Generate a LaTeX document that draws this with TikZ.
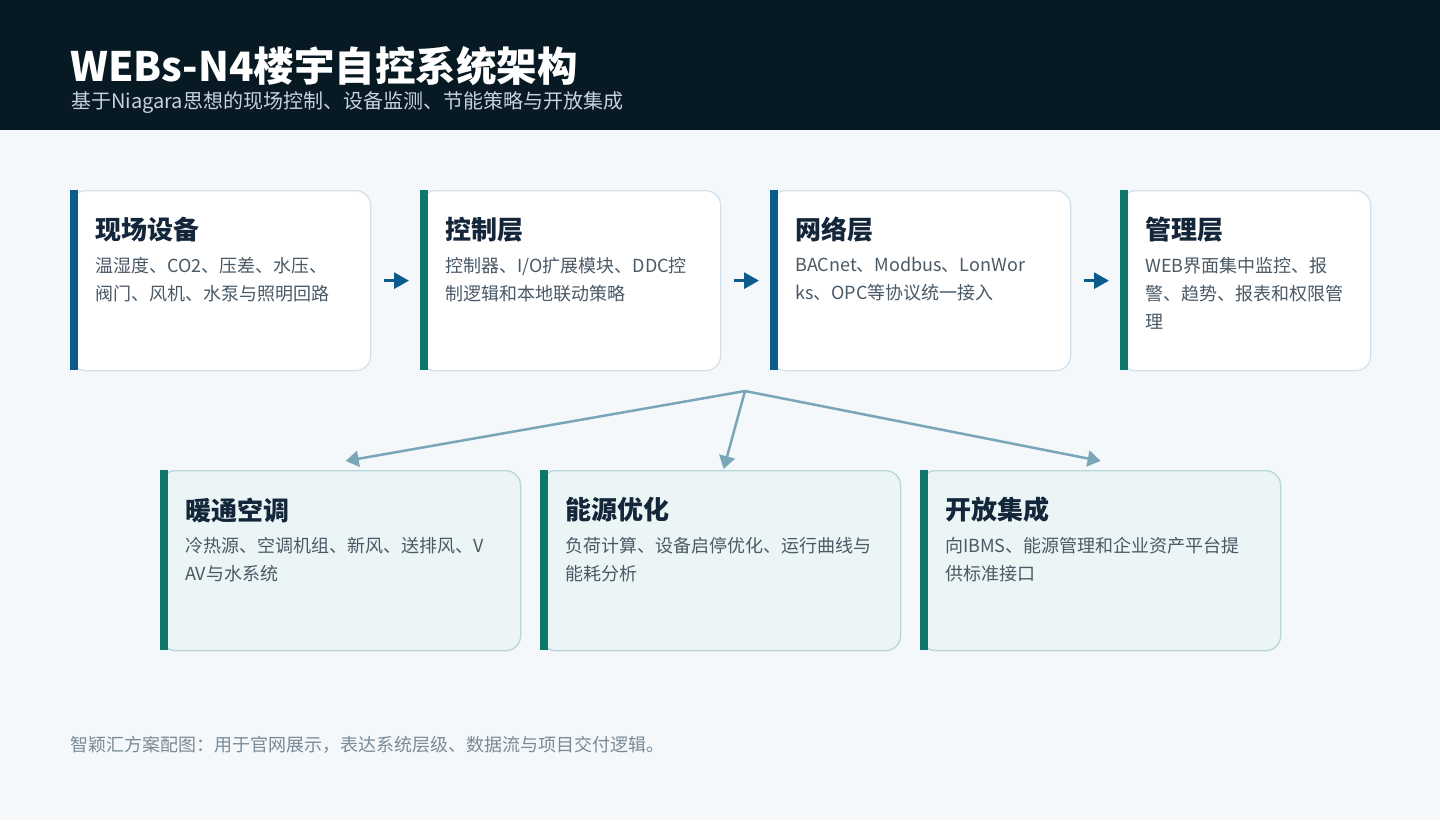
\documentclass[tikz,border=0pt]{standalone}
\usepackage{fontspec}
\setmainfont{Noto Sans CJK SC}
\usetikzlibrary{positioning, arrows.meta}

\definecolor{headbg}{HTML}{071923}
\definecolor{pagebg}{HTML}{F4F8FB}
\definecolor{ink}{HTML}{13263A}
\definecolor{bodyink}{HTML}{4A5966}
\definecolor{subink}{HTML}{C6D3DC}
\definecolor{footink}{HTML}{7A8A96}
\definecolor{barblue}{HTML}{0B5C8C}
\definecolor{barteal}{HTML}{0E766A}
\definecolor{cardline}{HTML}{D5E1EA}
\definecolor{softfill}{HTML}{EBF5F6}
\definecolor{softline}{HTML}{B7D6DA}
\definecolor{flowline}{HTML}{7AA7B8}

\begin{document}
\begin{tikzpicture}[
        x=1pt, y=-1pt,
        card/.style={draw=cardline, line width=1.3pt, fill=white, rounded corners=15pt,
            minimum width=300pt, minimum height=180pt, anchor=north west, inner sep=0pt},
        subcard/.style={card, draw=softline, fill=softfill, minimum width=360pt},
        cardtitle/.style={anchor=west, inner sep=0pt, text=ink,
            font=\fontsize{26}{30}\selectfont\bfseries},
        cardtext/.style={anchor=north west, align=left, inner sep=0pt, text=bodyink,
            font=\fontsize{18}{28}\selectfont},
        stepline/.style={-{Triangle[length=15pt,width=16pt]}, line width=3pt, draw=barblue,
            shorten <=13pt, shorten >=11pt},
        flow/.style={-{Triangle[length=13pt,width=16pt]}, line width=2.5pt, draw=flowline}
    ]
    \useasboundingbox (0,0) rectangle (1440,820);
    \fill[pagebg] (0,0) rectangle (1440,820);
    \fill[headbg] (0,0) rectangle (1440,130);
    \node[anchor=west, inner sep=0pt, text=white, font=\fontsize{40.5}{44}\selectfont\bfseries] (title) at (70,66) {WEBs-N4楼宇自控系统架构};
    \node[anchor=west, inner sep=0pt, text=subink, font=\fontsize{20}{24}\selectfont] (subtitle) at (71,103) {基于Niagara思想的现场控制、设备监测、节能策略与开放集成};

    % flows to the application cards
    \coordinate (hub) at (745,391);
    \node[subcard] (hvac) at (160,470) {};
    \node[subcard] (energy) at (540,470) {};
    \node[subcard] (integ) at (920,470) {};
    \draw[flow] (hub) -- ([shift={(5,-9)}]hvac.north);
    \draw[flow] (hub) -- ([shift={(3,-1)}]energy.north);
    \draw[flow] (hub) -- ([shift={(0,-9)}]integ.north);

    % layer cards
    \node[card] (field) at (70,190) {};
    \node[card] (ctrl) at (420,190) {};
    \node[card] (net) at (770,190) {};
    \node[card, minimum width=250pt] (mgmt) at (1120,190) {};
    \fill[barblue] (field.north west) rectangle ++(8,180);
    \fill[barteal] (ctrl.north west) rectangle ++(8,180);
    \fill[barblue] (net.north west) rectangle ++(8,180);
    \fill[barteal] (mgmt.north west) rectangle ++(8,180);
    \fill[barteal] (hvac.north west) rectangle ++(8,180);
    \fill[barteal] (energy.north west) rectangle ++(8,180);
    \fill[barteal] (integ.north west) rectangle ++(8,180);

    \draw[stepline] (field.east) -- (ctrl.west);
    \draw[stepline] (ctrl.east) -- (net.west);
    \draw[stepline] (net.east) -- (mgmt.west);

    \node[cardtitle] (fieldT) at ([shift={(25,40)}]field.north west) {现场设备};
    \node[cardtext] (fieldB) at ([shift={(25,67)}]field.north west) {温湿度、CO2、压差、水压、\\阀门、风机、水泵与照明回路};
    \node[cardtitle] (ctrlT) at ([shift={(25,40)}]ctrl.north west) {控制层};
    \node[cardtext] (ctrlB) at ([shift={(25,67)}]ctrl.north west) {控制器、I/O扩展模块、DDC控\\制逻辑和本地联动策略};
    \node[cardtitle] (netT) at ([shift={(25,40)}]net.north west) {网络层};
    \node[cardtext] (netB) at ([shift={(25,67)}]net.north west) {BACnet、Modbus、LonWor\\ks、OPC等协议统一接入};
    \node[cardtitle] (mgmtT) at ([shift={(25,40)}]mgmt.north west) {管理层};
    \node[cardtext] (mgmtB) at ([shift={(25,67)}]mgmt.north west) {WEB界面集中监控、报\\警、趋势、报表和权限管\\理};
    \node[cardtitle] (hvacT) at ([shift={(25,40)}]hvac.north west) {暖通空调};
    \node[cardtext] (hvacB) at ([shift={(25,67)}]hvac.north west) {冷热源、空调机组、新风、送排风、V\\AV与水系统};
    \node[cardtitle] (energyT) at ([shift={(25,40)}]energy.north west) {能源优化};
    \node[cardtext] (energyB) at ([shift={(25,67)}]energy.north west) {负荷计算、设备启停优化、运行曲线与\\能耗分析};
    \node[cardtitle] (integT) at ([shift={(25,40)}]integ.north west) {开放集成};
    \node[cardtext] (integB) at ([shift={(25,67)}]integ.north west) {向IBMS、能源管理和企业资产平台提\\供标准接口};

    \node[anchor=west, inner sep=0pt, text=footink, font=\fontsize{18}{21}\selectfont] (note) at (70,745) {智颖汇方案配图：用于官网展示，表达系统层级、数据流与项目交付逻辑。};
\end{tikzpicture}
\end{document}
